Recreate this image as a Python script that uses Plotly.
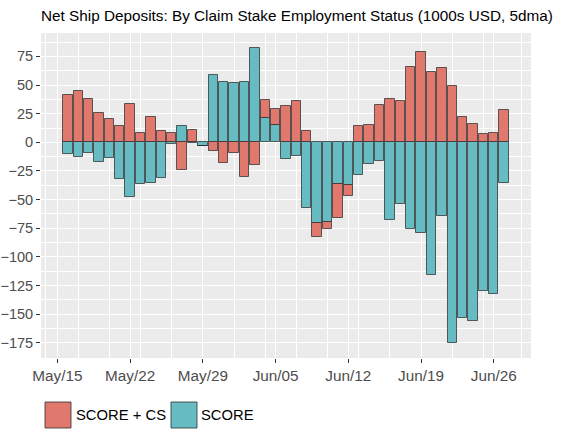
import pandas as pd
import plotly.graph_objects as go

# --- data (1000s USD, 5dma) ---
dates = pd.date_range("2023-05-16", "2023-06-27", freq="D")

score_cs = [41, 45, 38, 26, 20, 14, 33.5, 8, 22, 9.5,
            8, -24, 10.5, -0.5, -8, -18, -9, -30, -19.5, 15.5,
            14, 32, 36.5, 9.5, -12.5, -6, -29.5, -9.5, 14, 15.5,
            32.5, 37.5, 36, 66, 78.5, 61, 64.5, 49, 22, 16,
            7, 8.5, 28]
score = [-10, -13, -9.5, -17, -13.5, -32, -48, -36, -35.5, -31,
         -1.5, 14.5, -1, -3, 58.5, 52.5, 51.5, 52.5, 82.5, 21.5,
         15.5, -14.5, -12, -57.5, -70.5, -69.5, -36.5, -37.5, -28.5, -19,
         -16.5, -68, -53.5, -76, -79, -115.5, -64, -175, -153, -156,
         -129.5, -132, -35.5]

week_ticks = pd.to_datetime(["2023-05-15", "2023-05-22", "2023-05-29", "2023-06-05",
                             "2023-06-12", "2023-06-19", "2023-06-26"])
week_labels = [d.strftime("%b/%d") for d in week_ticks]
minor_x = pd.to_datetime(["2023-05-13 20:00", "2023-05-17 00:00", "2023-05-20 00:00",
                          "2023-05-23 00:00", "2023-05-26 00:00", "2023-06-01 00:00",
                          "2023-06-04 00:00", "2023-06-07 00:00", "2023-06-10 00:00",
                          "2023-06-13 00:00", "2023-06-16 00:00", "2023-06-22 00:00",
                          "2023-06-25 00:00", "2023-06-28 17:00"])

series = [("SCORE + CS", score_cs, "#E0786E"), ("SCORE", score, "#66BCC2")]

bar_w = 0.9 * 86400000
outline = dict(color="rgba(45,45,45,0.75)", width=1)

fig = go.Figure()
# SCORE goes first so it sits next to zero, like ggplot's stacking
for name, vals, col in reversed(series):
    fig.add_trace(go.Bar(x=dates, y=vals, name=name, width=bar_w,
                         marker=dict(color=col, line=outline),
                         showlegend=False))

# plot area in pixels (for the hand-made legend)
L, R, T, B = 41, 531, 33, 358
W, H = 565, 434

def px_x(x):
    return (x - L) / (R - L)

def px_y(y):
    return (B - y) / (B - T)

shapes = []
annotations = []
key_x = [45, 171]
text_x = [76, 201]
for (name, vals, col), kx, tx in zip(series, key_x, text_x):
    shapes.append(dict(type="rect", xref="paper", yref="paper",
                       x0=px_x(kx), x1=px_x(kx + 26), y0=px_y(428), y1=px_y(402),
                       fillcolor=col, line=dict(color="rgba(45,45,45,0.8)", width=1)))
    annotations.append(dict(xref="paper", yref="paper", x=px_x(tx), y=px_y(415),
                            text=name, showarrow=False, xanchor="left", yanchor="middle",
                            xshift=-2, font=dict(size=14.8, color="black")))

fig.update_layout(
    width=W, height=H,
    barmode="relative", bargap=0,
    font=dict(family="Liberation Sans, Arial, sans-serif", color="#4D4D4D"),
    paper_bgcolor="white", plot_bgcolor="#EBEBEB",
    margin=dict(l=L, r=W - R, t=T, b=H - B),
    title=dict(text="Net Ship Deposits: By Claim Stake Employment Status (1000s USD, 5dma)",
               x=L / W, xanchor="left", y=1 - 16 / H, yanchor="middle",
               font=dict(size=15.3, color="black")),
    shapes=shapes, annotations=annotations,
)
fig.update_xaxes(range=["2023-05-13 10:00", "2023-06-29 14:00"],
                 tickmode="array", tickvals=week_ticks, ticktext=week_labels,
                 ticks="outside", ticklen=4, tickcolor="#333333", tickwidth=1,
                 tickfont=dict(size=15.3, color="#4D4D4D"),
                 showgrid=True, gridcolor="white", gridwidth=1.4,
                 minor=dict(tickmode="array", tickvals=minor_x, showgrid=True,
                            gridcolor="white", gridwidth=0.6),
                 zeroline=False, showline=False, automargin=False)
fig.update_yaxes(range=[-188.2, 95.4], tickmode="linear", tick0=0, dtick=25,
                 ticks="outside", ticklen=4, tickcolor="#333333", tickwidth=1,
                 tickfont=dict(size=14.5, color="#4D4D4D"),
                 showgrid=True, gridcolor="white", gridwidth=1.4,
                 minor=dict(tick0=12.5, dtick=25, showgrid=True,
                            gridcolor="white", gridwidth=0.6),
                 zeroline=False, showline=False, automargin=False)

# drop the page's default body margin so the figure sits at the window corner
fig.write_html("out.html", config={"displayModeBar": False},
               post_script="document.body.style.margin='0';")
